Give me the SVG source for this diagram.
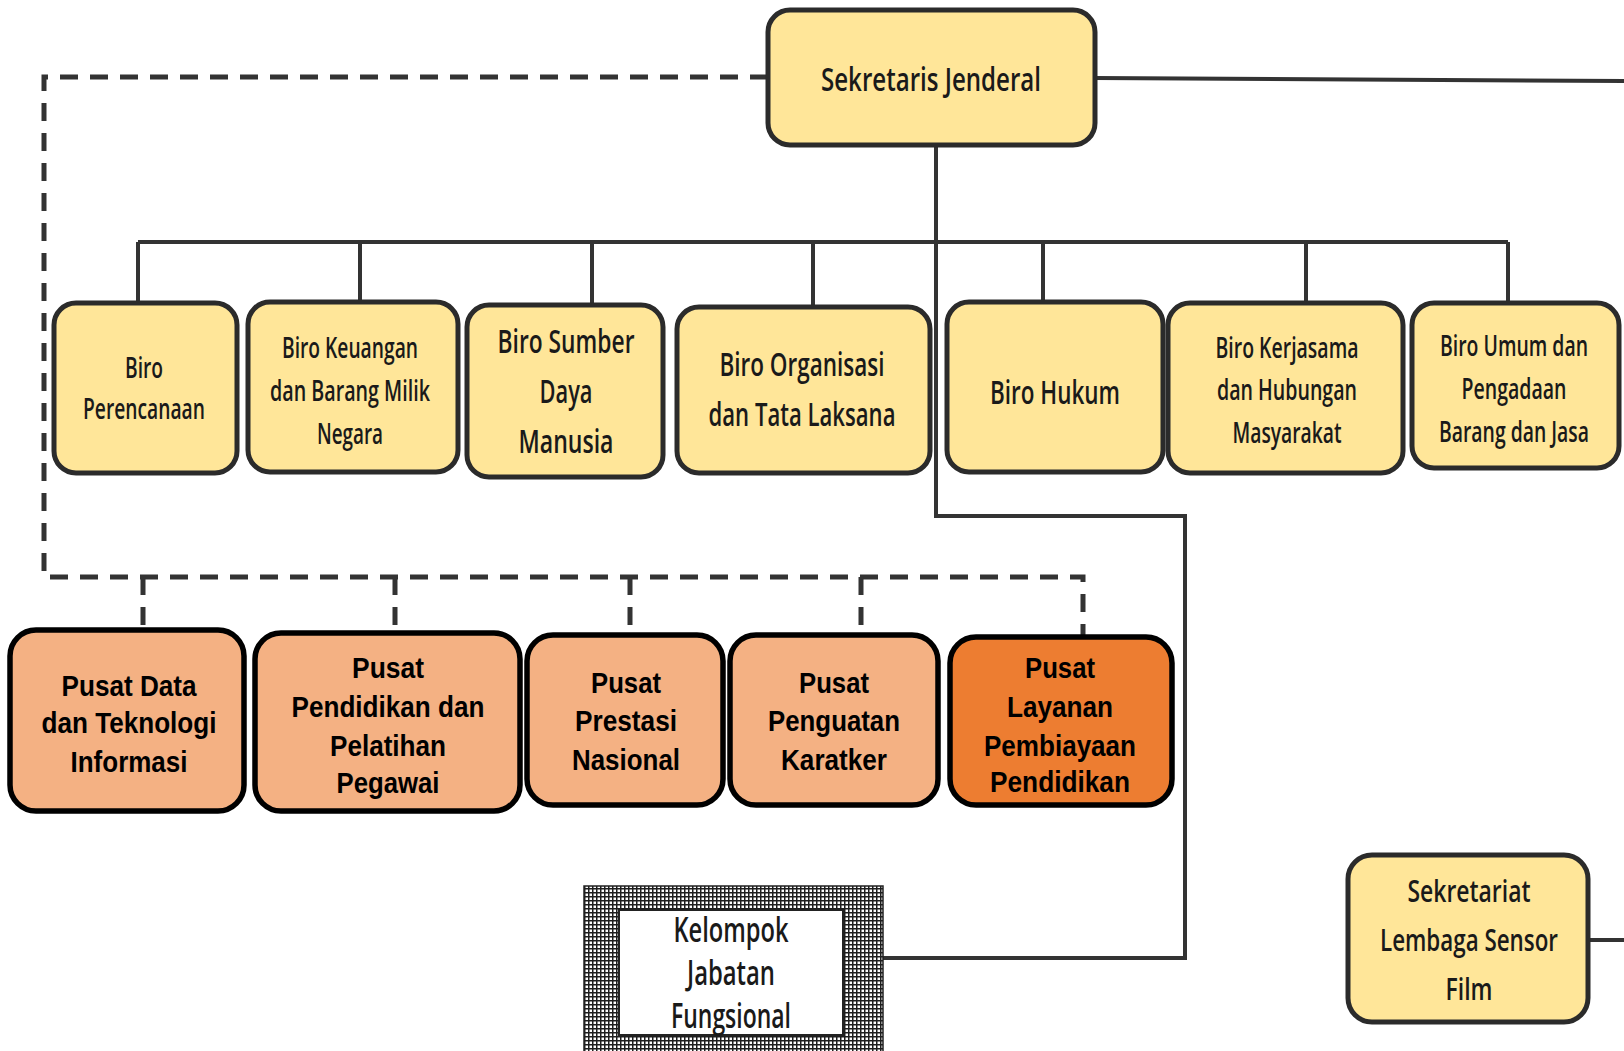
<svg xmlns="http://www.w3.org/2000/svg" width="1624" height="1051" viewBox="0 0 1624 1051">
<defs>
<pattern id="hatch" width="4" height="4" patternUnits="userSpaceOnUse">
<rect width="4" height="4" fill="#ffffff"/>
<path d="M0 0.75H4M0.75 0V4" stroke="#1e1e1e" stroke-width="1.5"/>
</pattern>
</defs>
<style>
.yel{fill:#FFE699;stroke:#2b2b2b;stroke-width:5}
.org{fill:#F4B183;stroke:#000000;stroke-width:5.5}
.dorg{fill:#ED7D31;stroke:#000000;stroke-width:5.5}
.ln{fill:none;stroke:#333333;stroke-width:4}
.dash{fill:none;stroke:#333333;stroke-width:5;stroke-dasharray:18 12}
.c{font-family:"Open Sans","DejaVu Sans",sans-serif;font-weight:600;fill:#1a1a1a;text-anchor:middle}
.a{font-family:"Liberation Sans",Arial,sans-serif;font-weight:700;fill:#000000;text-anchor:middle;font-size:30px}
</style>
<rect width="1624" height="1051" fill="#ffffff"/>
<g id="connectors">
<path class="ln" d="M1095 78 L1624 81"/>
<path class="ln" d="M936 145 V516 H1185 V958 H883"/>
<path class="ln" d="M138 242 H1508"/>
<path class="ln" d="M138 242 V303 M360 242 V302 M592 242 V305 M813 242 V307 M1043 242 V302 M1306 242 V303 M1508 242 V303"/>
<path class="ln" d="M1588 940 H1624"/>
<path class="dash" d="M768 77 H44 V577 H1083 V637"/>
<path class="dash" d="M143 577 V630 M395 577 V633 M630 577 V635 M861 577 V635"/>
</g>
<g id="sekjen">
<rect class="yel" x="768" y="10" width="327" height="135" rx="22"/>
<text class="c" x="931" y="91" font-size="33" textLength="220" lengthAdjust="spacingAndGlyphs">Sekretaris Jenderal</text>
</g>
<g id="biro-perencanaan">
<rect class="yel" x="54" y="303" width="183" height="170" rx="22"/>
<text class="c" x="144" y="378" font-size="29" textLength="38" lengthAdjust="spacingAndGlyphs">Biro</text>
<text class="c" x="144" y="419" font-size="29" textLength="122" lengthAdjust="spacingAndGlyphs">Perencanaan</text>
</g>
<g id="biro-keuangan">
<rect class="yel" x="248" y="302" width="210" height="170" rx="22"/>
<text class="c" x="350" y="358" font-size="29" textLength="136" lengthAdjust="spacingAndGlyphs">Biro Keuangan</text>
<text class="c" x="350" y="401" font-size="29" textLength="160" lengthAdjust="spacingAndGlyphs">dan Barang Milik</text>
<text class="c" x="350" y="444" font-size="29" textLength="66" lengthAdjust="spacingAndGlyphs">Negara</text>
</g>
<g id="biro-sdm">
<rect class="yel" x="467" y="305" width="196" height="172" rx="22"/>
<text class="c" x="566" y="353" font-size="33" textLength="137" lengthAdjust="spacingAndGlyphs">Biro Sumber</text>
<text class="c" x="566" y="403" font-size="33" textLength="53" lengthAdjust="spacingAndGlyphs">Daya</text>
<text class="c" x="566" y="453" font-size="33" textLength="95" lengthAdjust="spacingAndGlyphs">Manusia</text>
</g>
<g id="biro-organisasi">
<rect class="yel" x="677" y="307" width="253" height="166" rx="22"/>
<text class="c" x="802" y="376" font-size="33" textLength="165" lengthAdjust="spacingAndGlyphs">Biro Organisasi</text>
<text class="c" x="802" y="426" font-size="33" textLength="187" lengthAdjust="spacingAndGlyphs">dan Tata Laksana</text>
</g>
<g id="biro-hukum">
<rect class="yel" x="947" y="302" width="216" height="170" rx="22"/>
<text class="c" x="1055" y="404" font-size="33" textLength="130" lengthAdjust="spacingAndGlyphs">Biro Hukum</text>
</g>
<g id="biro-kerjasama">
<rect class="yel" x="1168" y="303" width="235" height="170" rx="22"/>
<text class="c" x="1287" y="358" font-size="29" textLength="143" lengthAdjust="spacingAndGlyphs">Biro Kerjasama</text>
<text class="c" x="1287" y="400" font-size="29" textLength="140" lengthAdjust="spacingAndGlyphs">dan Hubungan</text>
<text class="c" x="1287" y="443" font-size="29" textLength="109" lengthAdjust="spacingAndGlyphs">Masyarakat</text>
</g>
<g id="biro-umum">
<rect class="yel" x="1412" y="303" width="207" height="165" rx="22"/>
<text class="c" transform="translate(1514 356) scale(1 1.38)" x="0" y="0" font-size="21" textLength="148" lengthAdjust="spacingAndGlyphs">Biro Umum dan</text>
<text class="c" transform="translate(1514 399) scale(1 1.38)" x="0" y="0" font-size="21" textLength="105" lengthAdjust="spacingAndGlyphs">Pengadaan</text>
<text class="c" transform="translate(1514 442) scale(1 1.38)" x="0" y="0" font-size="21" textLength="150" lengthAdjust="spacingAndGlyphs">Barang dan Jasa</text>
</g>
<g id="pusat-data">
<rect class="org" x="10" y="630" width="234" height="181" rx="26"/>
<text class="a" x="129" y="696" textLength="135" lengthAdjust="spacingAndGlyphs">Pusat Data</text>
<text class="a" x="129" y="733" textLength="175" lengthAdjust="spacingAndGlyphs">dan Teknologi</text>
<text class="a" x="129" y="772" textLength="117" lengthAdjust="spacingAndGlyphs">Informasi</text>
</g>
<g id="pusat-pendidikan">
<rect class="org" x="255" y="633" width="265" height="178" rx="26"/>
<text class="a" x="388" y="678" textLength="72" lengthAdjust="spacingAndGlyphs">Pusat</text>
<text class="a" x="388" y="717" textLength="193" lengthAdjust="spacingAndGlyphs">Pendidikan dan</text>
<text class="a" x="388" y="756" textLength="116" lengthAdjust="spacingAndGlyphs">Pelatihan</text>
<text class="a" x="388" y="793" textLength="103" lengthAdjust="spacingAndGlyphs">Pegawai</text>
</g>
<g id="pusat-prestasi">
<rect class="org" x="527" y="635" width="196" height="170" rx="26"/>
<text class="a" x="626" y="693" textLength="70" lengthAdjust="spacingAndGlyphs">Pusat</text>
<text class="a" x="626" y="731" textLength="102" lengthAdjust="spacingAndGlyphs">Prestasi</text>
<text class="a" x="626" y="770" textLength="108" lengthAdjust="spacingAndGlyphs">Nasional</text>
</g>
<g id="pusat-penguatan">
<rect class="org" x="730" y="635" width="208" height="170" rx="26"/>
<text class="a" x="834" y="693" textLength="70" lengthAdjust="spacingAndGlyphs">Pusat</text>
<text class="a" x="834" y="731" textLength="132" lengthAdjust="spacingAndGlyphs">Penguatan</text>
<text class="a" x="834" y="770" textLength="106" lengthAdjust="spacingAndGlyphs">Karatker</text>
</g>
<g id="pusat-layanan">
<rect class="dorg" x="950" y="637" width="222" height="168" rx="26"/>
<text class="a" x="1060" y="678" textLength="70" lengthAdjust="spacingAndGlyphs">Pusat</text>
<text class="a" x="1060" y="717" textLength="106" lengthAdjust="spacingAndGlyphs">Layanan</text>
<text class="a" x="1060" y="756" textLength="152" lengthAdjust="spacingAndGlyphs">Pembiayaan</text>
<text class="a" x="1060" y="792" textLength="140" lengthAdjust="spacingAndGlyphs">Pendidikan</text>
</g>
<g id="kelompok-jabatan">
<rect x="584" y="886" width="299" height="170" fill="url(#hatch)" stroke="#222222" stroke-width="1.5"/>
<rect x="619" y="910" width="224" height="125" fill="#ffffff" stroke="#222222" stroke-width="2"/>
<text class="c" x="731" y="942" font-size="35" textLength="115" lengthAdjust="spacingAndGlyphs">Kelompok</text>
<text class="c" x="731" y="985" font-size="35" textLength="88" lengthAdjust="spacingAndGlyphs">Jabatan</text>
<text class="c" x="731" y="1028" font-size="35" textLength="120" lengthAdjust="spacingAndGlyphs">Fungsional</text>
</g>
<g id="sekretariat-lsf">
<rect class="yel" x="1348" y="855" width="240" height="167" rx="24"/>
<text class="c" x="1469" y="902" font-size="31" textLength="123" lengthAdjust="spacingAndGlyphs">Sekretariat</text>
<text class="c" x="1469" y="951" font-size="31" textLength="178" lengthAdjust="spacingAndGlyphs">Lembaga Sensor</text>
<text class="c" x="1469" y="1000" font-size="31" textLength="47" lengthAdjust="spacingAndGlyphs">Film</text>
</g>
</svg>
